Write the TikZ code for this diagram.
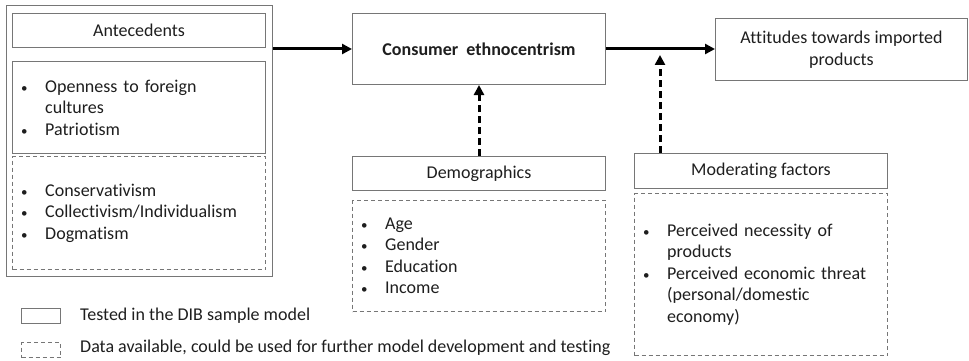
\documentclass[tikz,border=0pt]{standalone}
\usepackage{fontspec}
\setmainfont[Ligatures=NoCommon]{Carlito}
\usetikzlibrary{arrows.meta,positioning}

\definecolor{boxgray}{RGB}{118,118,118}
\definecolor{txtgray}{RGB}{30,30,30}
\newcommand{\bul}{\makebox[25pt][l]{\hspace*{1pt}{\fontsize{13}{13}\selectfont\textbullet}}}
\newcommand{\ind}{\hspace*{25pt}}

\tikzset{
	box/.style={draw=boxgray,line width=1pt,anchor=north west,inner sep=0pt},
	dbox/.style={box,dash pattern=on 4pt off 3pt},
	items/.style={align=left,text width=#1,inner sep=0pt},
	flow/.style={line width=3pt,-{Triangle[length=10pt,width=10pt]}},
	dflow/.style={flow,dash pattern=on 7pt off 4pt}
}

\begin{document}
\begin{tikzpicture}[x=1pt,y=-1pt,font=\fontsize{18}{21.5}\selectfont,text=txtgray]
	\useasboundingbox (0,0) rectangle (969,361);
	% antecedents
	\node[box,minimum width=266,minimum height=271] (ante) at (6,5) {};
	\node[box,minimum width=253,minimum height=34] (antehead) at (12,13) {Antecedents};
	\node[box,minimum width=253,minimum height=92] (antetest) at (12,61) {};
	\node[items=240pt,anchor=west] (antetesttxt) at ([xshift=8pt]antetest.west)
		{\bul Openness to foreign\\ \ind cultures\\ \bul Patriotism};
	\node[dbox,minimum width=253,minimum height=113] (antedata) at (12,156) {};
	\node[items=240pt,anchor=west] (antedatatxt) at ([xshift=8pt]antedata.west)
		{\bul Conservativism\\ \bul Collectivism/Individualism\\ \bul Dogmatism};
	% main chain
	\node[box,minimum width=253,minimum height=71,font=\fontsize{18}{21.5}\selectfont\bfseries] (ce) at (352,13)
		{Consumer\ \ ethnocentrism};
	\node[box,minimum width=252,minimum height=62,align=center] (att) at (715,18)
		{Attitudes towards imported\\ products};
	% demographics
	\node[box,minimum width=253,minimum height=34] (demo) at (352,156) {Demographics};
	\node[dbox,minimum width=253,minimum height=111] (demodata) at (352,200) {};
	\node[items=240pt,anchor=west] (demotxt) at ([xshift=8pt]demodata.west)
		{\bul Age\\ \bul Gender\\ \bul Education\\ \bul Income};
	% moderators
	\node[box,minimum width=253,minimum height=35] (mod) at (634,153) {Moderating factors};
	\node[dbox,minimum width=253,minimum height=162] (moddata) at (634,193) {};
	\node[items=240pt,anchor=west] (modtxt) at ([xshift=8pt]moddata.west)
		{\bul Perceived necessity of\\ \ind products\\ \bul Perceived economic threat\\
		\ind (personal/domestic\\ \ind economy)};
	% arrows
	\draw[flow] (ce.west -| ante.east) -- (ce.west);
	\draw[flow] (ce.east) -- (ce.east -| att.west);
	\draw[dflow] (demo.north) -- (ce.south);
	\coordinate (modtip) at (660,55);
	\draw[dflow] (mod.north -| modtip) -- (modtip);
	% legend
	\node[box,minimum width=39,minimum height=15] (legtest) at (21,308) {};
	\node[anchor=west,inner sep=0pt] (legtesttxt) at (80,316) {Tested in the DIB sample model};
	\node[dbox,minimum width=39,minimum height=15] (legdata) at (21,342) {};
	\node[anchor=west,inner sep=0pt] (legdatatxt) at (80,348)
		{Data available, could be used for further model development and testing};
\end{tikzpicture}
\end{document}
